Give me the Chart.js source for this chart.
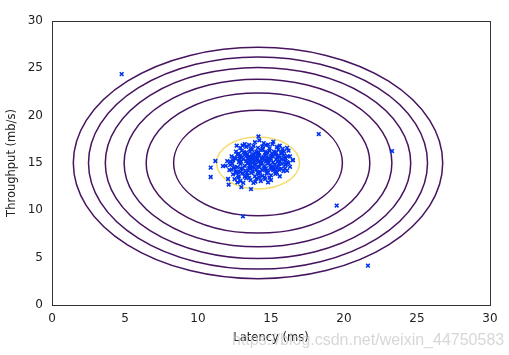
<!DOCTYPE html>
<html>
<head>
<meta charset="utf-8">
<script src="https://cdn.jsdelivr.net/npm/chart.js@4/dist/chart.umd.min.js"></script>
<style>
  html, body { margin: 0; padding: 0; background: #fff; }
  #wrap { width: 509px; height: 355px; }
</style>
</head>
<body>
<div id="wrap"><canvas id="c" width="509" height="355"></canvas></div>
<script>
// ---- data ----
const xTicks = [0, 5, 10, 15, 20, 25, 30];
const yTicks = [0, 5, 10, 15, 20, 25, 30];

// latency (ms) of each server sample
const latency = [
  14.2,13.9,14.5,15.1,13.5,14.8,
  12.9,13.3,13.8,14.1,14.4,14.9,15.4,15.8,13.6,16.1,
  12.6,13.0,13.3,13.7,14.0,14.3,14.6,14.9,15.2,15.5,15.9,16.2,13.9,14.45,15.05,12.8,15.7,
  12.3,12.7,13.0,13.2,13.5,13.8,14.0,14.2,14.5,14.7,15.0,15.3,15.6,15.9,16.3,13.4,14.35,14.85,15.45,12.5,16.0,13.65,14.1,
  12.0,12.4,12.8,13.1,13.3,13.6,13.85,14.05,14.25,14.45,14.65,14.9,15.15,15.35,15.6,15.85,16.1,12.6,13.95,14.55,15.0,13.45,16.5,
  11.9,12.2,12.5,12.9,13.2,13.4,13.7,13.9,14.1,14.3,14.55,14.8,15.0,15.25,15.5,15.75,16.0,12.7,13.55,14.2,14.95,15.4,16.3,
  12.3,12.6,12.95,13.25,13.5,13.75,14.0,14.25,14.5,14.75,15.0,15.3,15.55,15.85,13.85,14.4,12.9,15.95,
  12.4,12.8,13.1,13.4,13.65,13.9,14.15,14.4,14.7,15.0,15.3,15.6,13.2,14.55,12.6,
  12.5,12.9,13.3,13.6,14.0,14.3,14.6,15.0,13.1,13.8,
  12.9,13.35,13.75,14.15,14.6,15.1,15.5,16.15,
  12.2,12.95,13.55,14.15,14.8,15.45,15.95,
  12.45,13.05,13.6,14.65,15.2,15.7,
  12.7,13.35,14.1,14.8,15.4,
  13.15,13.55,14.15,14.75,15.35,15.75,
  12.75,13.5,14.2,14.9,
  12.35,13.75,14.35,15.55,16.2,
  13.05,14.65,15.6,
  12.7,14.8,
  12.85,13.75,14.75,15.75,
  12.15,13.45,14.6,15.15,16.1,
  4.77,18.27,23.29,19.5,13.08,21.64,10.87,10.87,11.19,13.63,12.97,12.1,12.06,12.65,13.2,14.14,16.49,16.0,15.16,13.93,11.71
];
// throughput (mb/s) of each server sample
const throughput = [
  17.4,17.2,17.1,17.0,16.9,16.95,
  16.6,16.7,16.8,16.6,16.75,16.55,16.7,16.5,16.5,16.6,
  16.2,16.3,16.1,16.4,16.2,16.35,16.1,16.3,16.2,16.4,16.2,16.3,16.05,16.45,16.0,16.0,16.0,
  15.7,15.9,15.6,15.85,15.7,15.9,15.6,15.8,15.65,15.95,15.7,15.9,15.6,15.8,15.7,15.5,15.55,15.5,15.55,15.55,15.5,15.6,15.95,
  15.2,15.3,15.1,15.4,15.2,15.35,15.1,15.4,15.2,15.45,15.15,15.3,15.05,15.4,15.2,15.35,15.1,15.45,15.25,15.3,15.45,15.05,15.3,
  14.7,14.8,14.6,14.9,14.7,14.95,14.6,14.85,14.65,14.9,14.7,14.95,14.6,14.8,14.65,14.9,14.8,14.55,14.8,14.55,14.8,14.5,14.6,
  14.3,14.1,14.4,14.2,14.45,14.1,14.3,14.05,14.4,14.2,14.35,14.1,14.3,14.15,14.5,14.25,14.05,14.4,
  13.8,13.6,13.9,13.7,13.95,13.6,13.85,13.65,13.9,13.7,13.85,13.6,13.55,13.5,13.95,
  13.3,13.1,13.4,13.2,13.35,13.1,13.3,13.2,12.9,12.9,
  15.75,15.8,15.72,15.78,15.82,15.74,15.77,15.7,
  15.15,15.12,15.18,15.1,15.16,15.13,15.2,
  14.45,14.42,14.48,14.44,14.47,14.4,
  14.0,13.98,14.02,14.01,13.97,
  16.15,16.18,16.12,16.16,16.1,16.14,
  13.45,13.42,13.48,13.44,
  14.95,15.0,15.05,14.95,15.0,
  16.85,16.88,16.82,
  12.95,12.95,
  15.45,15.42,15.47,15.44,
  14.25,14.22,14.27,14.24,14.2,
  24.39,18.06,16.26,10.5,9.37,4.16,14.51,13.52,15.21,12.25,12.46,12.71,13.31,16.83,17.0,17.81,15.31,14.82,17.25,13.03,14.68
];

// Gaussian density contours: centre and semi-axes in data units
const contourCenter = [14.11, 15.0];
const contourRx = [12.65, 11.61, 10.46, 9.17, 7.66, 5.78, 2.84];
const contourRy = [12.22, 11.21, 10.10, 8.86, 7.40, 5.58, 2.74];
const contourColors = ['#46135f','#46135f','#46135f','#46135f','#46135f','#46135f','#f5dc6a'];

const points = latency.map((x, i) => ({ x: x, y: throughput[i] }));

const contourPlugin = {
  id: 'contours',
  beforeDatasetsDraw(chart) {
    const { ctx, chartArea, scales: { x, y } } = chart;
    ctx.save();
    ctx.beginPath();
    ctx.rect(chartArea.left, chartArea.top, chartArea.right - chartArea.left, chartArea.bottom - chartArea.top);
    ctx.clip();
    const cx = x.getPixelForValue(contourCenter[0]);
    const cy = y.getPixelForValue(contourCenter[1]);
    for (let i = 0; i < contourRx.length; i++) {
      const rx = Math.abs(x.getPixelForValue(contourCenter[0] + contourRx[i]) - cx);
      const ry = Math.abs(y.getPixelForValue(contourCenter[1] + contourRy[i]) - cy);
      ctx.beginPath();
      ctx.ellipse(cx, cy, rx, ry, 0, 0, Math.PI * 2);
      ctx.strokeStyle = contourColors[i];
      ctx.lineWidth = 1.5;
      ctx.stroke();
    }
    ctx.restore();
  }
};

const framePlugin = {
  id: 'frame',
  afterDatasetsDraw(chart) {
    const { ctx, chartArea } = chart;
    ctx.save();
    ctx.strokeStyle = '#333';
    ctx.lineWidth = 1;
    ctx.strokeRect(Math.round(chartArea.left) + 0.5, Math.round(chartArea.top) + 0.5,
      Math.round(chartArea.right - chartArea.left), Math.round(chartArea.bottom - chartArea.top));
    ctx.restore();
  },
  afterDraw(chart) {
    const { ctx } = chart;
    ctx.save();
    ctx.font = '16px "Liberation Sans", Arial, sans-serif';
    ctx.fillStyle = 'rgba(205,205,205,0.8)';
    ctx.textBaseline = 'alphabetic';
    ctx.textAlign = 'left';
    ctx.fillText('https://blog.csdn.net/weixin_44750583', 232, 345);
    ctx.restore();
  }
};

const tickFont = { family: '"DejaVu Sans", sans-serif', size: 12 };
const titleFont = { family: '"DejaVu Sans", sans-serif', size: 11.5 };

new Chart(document.getElementById('c'), {
  type: 'scatter',
  data: {
    datasets: [{
      data: points,
      pointStyle: 'crossRot',
      radius: 2.6,
      borderColor: '#0033ee',
      backgroundColor: '#0033ee',
      borderWidth: 1.6
    }]
  },
  options: {
    responsive: false,
    animation: false,
    devicePixelRatio: 1,
    layout: { padding: { top: 21, right: 19, left: 0, bottom: 0 } },
    plugins: { legend: { display: false }, tooltip: { enabled: false } },
    scales: {
      x: {
        type: 'linear', min: 0, max: 30,
        afterBuildTicks(s) { s.ticks = xTicks.map(v => ({ value: v })); },
        afterFit(s) { s.height = 50; },
        grid: { display: false, drawOnChartArea: false, drawTicks: true, tickLength: 4, tickColor: '#333' },
        border: { display: false },
        ticks: { font: tickFont, color: '#222', padding: 3, maxRotation: 0 },
        title: { display: true, text: 'Latency (ms)', font: titleFont, color: '#222', padding: { top: 0, bottom: 10 } }
      },
      y: {
        type: 'linear', min: 0, max: 30,
        afterBuildTicks(s) { s.ticks = yTicks.map(v => ({ value: v })); },
        afterFit(s) { s.width = 52; },
        grid: { display: false, drawOnChartArea: false, drawTicks: true, tickLength: 4, tickColor: '#333' },
        border: { display: false },
        ticks: { font: tickFont, color: '#222', padding: 5 },
        title: { display: true, text: 'Throughput (mb/s)', font: titleFont, color: '#222', padding: { top: 5, bottom: 0 } }
      }
    }
  },
  plugins: [contourPlugin, framePlugin]
});
</script>
</body>
</html>
